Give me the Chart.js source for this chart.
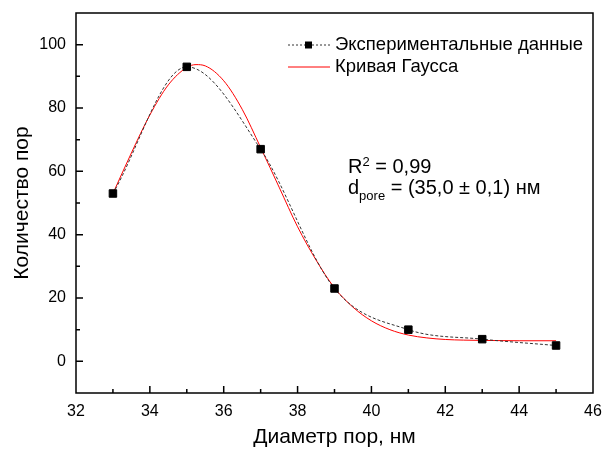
<!DOCTYPE html>
<html>
<head>
<meta charset="utf-8">
<script src="https://cdn.jsdelivr.net/npm/chart.js@4.4.1/dist/chart.umd.min.js"></script>
<style>
html, body { margin: 0; padding: 0; background: #fff; }
</style>
</head>
<body>
<canvas id="myChart" width="603" height="450"></canvas>
<script>
// экспериментальные точки
const expX = [33, 35, 37, 39, 41, 43, 45];
const expY = [53, 93, 67, 23, 10, 7, 5];
// аппроксимация Гаусса
const gaussX = [33, 33.5, 34, 34.5, 35, 35.25, 35.5, 36, 36.5, 37, 37.5, 38, 38.5, 39, 39.5, 40, 40.5, 41, 41.5, 42, 42.5, 43, 44, 45];
const gaussY = [53, 65.8, 77.8, 87.3, 92.8, 93.7, 93.3, 88.6, 79.6, 67.5, 55, 42.5, 32, 23.2, 17.1, 12.8, 10, 8.3, 7.4, 6.9, 6.7, 6.6, 6.5, 6.5];
const xTicks = [32, 34, 36, 38, 40, 42, 44, 46];
const yTicks = [0, 20, 40, 60, 80, 100];
const legendLabels = ['Экспериментальные данные', 'Кривая Гаусса'];
const xTitle = 'Диаметр пор, нм';
const yTitle = 'Количество пор';

const fam = '"Liberation Sans", Arial, sans-serif';
const ctx = document.getElementById('myChart').getContext('2d');

// рамка, внутренние засечки, легенда и подписи
const framePlugin = {
    id: 'frame',
    afterDraw(chart) {
        const c = chart.ctx;
        const a = chart.chartArea;
        const xs = chart.scales.x;
        const ys = chart.scales.y;
        c.save();
        c.strokeStyle = '#000';
        c.lineWidth = 1.5;
        c.strokeRect(a.left, a.top, a.right - a.left, a.bottom - a.top);

        c.beginPath();
        for (let v = xs.min + 1; v < xs.max; v++) {
            const px = xs.getPixelForValue(v);
            const len = v % 2 === 0 ? 7 : 4;
            c.moveTo(px, a.bottom);
            c.lineTo(px, a.bottom - len);
        }
        for (let v = ys.min + 10; v < ys.max; v += 10) {
            const py = ys.getPixelForValue(v);
            const len = v % 20 === 0 ? 7 : 4;
            c.moveTo(a.left, py);
            c.lineTo(a.left + len, py);
        }
        c.stroke();

        // легенда
        c.font = '18.5px ' + fam;
        c.textBaseline = 'middle';
        c.fillStyle = '#000';
        let ly = 45;
        c.strokeStyle = '#333';
        c.lineWidth = 1;
        c.setLineDash([2, 2]);
        c.beginPath();
        c.moveTo(288, ly);
        c.lineTo(330, ly);
        c.stroke();
        c.setLineDash([]);
        c.fillRect(305, ly - 3.5, 7, 7);
        c.fillText(legendLabels[0], 335, ly);
        ly = 67;
        c.strokeStyle = '#ff0000';
        c.beginPath();
        c.moveTo(288, ly);
        c.lineTo(330, ly);
        c.stroke();
        c.fillText(legendLabels[1], 335, ly);

        // R^2 и d_pore
        c.textBaseline = 'alphabetic';
        let tx = 348;
        c.font = '20px ' + fam;
        c.fillText('R', tx, 173);
        tx += c.measureText('R').width;
        c.font = '13px ' + fam;
        c.fillText('2', tx, 166);
        tx += c.measureText('2').width;
        c.font = '20px ' + fam;
        c.fillText(' = 0,99', tx, 173);

        tx = 348;
        c.fillText('d', tx, 194);
        tx += c.measureText('d').width;
        c.font = '13px ' + fam;
        c.fillText('pore', tx, 200);
        tx += c.measureText('pore').width;
        c.font = '20px ' + fam;
        c.fillText(' = (35,0 ± 0,1) нм', tx, 194);
        c.restore();
    }
};

function noPad(s) {
    s.paddingTop = 0;
    s.paddingBottom = 0;
    s.paddingLeft = 0;
    s.paddingRight = 0;
}

const chart = new Chart(ctx, {
    type: 'line',
    data: {
        datasets: [{
            label: legendLabels[0],
            data: expX.map((x, i) => ({ x: x, y: expY[i] })),
            borderColor: '#333',
            borderWidth: 1,
            borderDash: [3, 2],
            cubicInterpolationMode: 'monotone',
            pointStyle: 'rect',
            pointRadius: 5.3,
            pointBorderWidth: 1,
            pointBackgroundColor: '#000',
            pointBorderColor: '#000',
            order: 0
        }, {
            label: legendLabels[1],
            data: gaussX.map((x, i) => ({ x: x, y: gaussY[i] })),
            borderColor: '#ff0000',
            borderWidth: 1,
            cubicInterpolationMode: 'monotone',
            pointRadius: 0,
            order: 1
        }]
    },
    options: {
        responsive: false,
        animation: false,
        layout: { padding: { top: 13, right: 10, left: 0, bottom: 0 } },
        plugins: {
            legend: { display: false },
            tooltip: { enabled: false }
        },
        scales: {
            x: {
                type: 'linear',
                min: 32,
                max: 46,
                afterBuildTicks: s => { s.ticks = xTicks.map(v => ({ value: v })); },
                afterFit: s => { s.height = 57; noPad(s); },
                grid: { display: false, drawTicks: false },
                border: { display: false },
                ticks: { color: '#000', font: { family: fam, size: 16 }, padding: 9 },
                title: {
                    display: true,
                    text: xTitle,
                    color: '#000',
                    font: { family: fam, size: 21 },
                    padding: { top: 0, bottom: 0 }
                }
            },
            y: {
                type: 'linear',
                min: -10,
                max: 110,
                afterBuildTicks: s => { s.ticks = yTicks.map(v => ({ value: v })); },
                afterFit: s => { s.width = 76; noPad(s); },
                grid: { display: false, drawTicks: false },
                border: { display: false },
                ticks: { color: '#000', font: { family: fam, size: 16 }, padding: 10 },
                title: {
                    display: true,
                    text: yTitle,
                    color: '#000',
                    font: { family: fam, size: 21 },
                    padding: { top: 10, bottom: 0 }
                }
            }
        }
    },
    plugins: [framePlugin]
});
</script>
</body>
</html>
